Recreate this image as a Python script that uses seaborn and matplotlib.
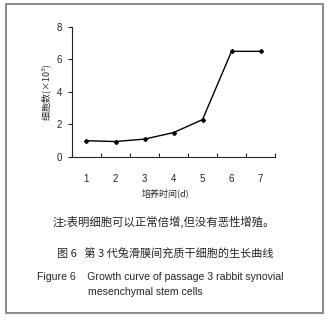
import numpy as np
import pandas as pd
import matplotlib
matplotlib.use('Agg')
import matplotlib.pyplot as plt
from matplotlib.patches import Rectangle
import seaborn as sns

days = [1, 2, 3, 4, 5, 6, 7]
cell_counts = [1.0, 0.95, 1.1, 1.5, 2.3, 6.5, 6.5]
y_ticks = [0, 2, 4, 6, 8]

sns.set_style("ticks")
plt.rcParams['font.family'] = ['Liberation Sans', 'Noto Sans CJK SC', 'DejaVu Sans']
cjk = ['Noto Sans CJK SC', 'DejaVu Sans']

df = pd.DataFrame({'day': days, 'count': cell_counts})

fig = plt.figure(figsize=(3.31, 3.21), dpi=100)
ax = fig.add_axes([0.2175, 0.511, 0.831 - 0.2175, 0.916 - 0.511])

sns.lineplot(data=df, x='day', y='count', ax=ax, color='black', linewidth=1.0,
             marker='D', markersize=2.2, markeredgecolor='black')

ax.set_xlim(0.5, 7.5)
ax.set_ylim(0, 8)
ax.set_yticks(y_ticks)
ax.set_xticks(days)
ax.set_xticks(np.arange(0.5, 8, 1), minor=True)
ax.tick_params(axis='x', which='major', length=0, labelsize=7, pad=12)
ax.tick_params(axis='x', which='minor', length=3, direction='in', width=0.8)
ax.tick_params(axis='y', length=3, width=0.8, labelsize=7, pad=4)
sns.despine(ax=ax)
for s in ['left', 'bottom']:
    ax.spines[s].set_linewidth(0.8)

ax.set_xlabel('')
ax.set_ylabel('细胞数(×10$^3$)', fontsize=6.5, family=cjk, labelpad=2)

fig.text(0.5, 1 - 193 / 321, '培养时间(d)', fontsize=6.5, family=cjk,
         ha='center', va='center')
fig.text(0.158, 1 - 222 / 321, '注:表明细胞可以正常倍增,但没有恶性增殖。', fontsize=8.2,
         family=cjk, ha='left', va='center')
fig.text(0.172, 1 - 254 / 321, '图 6   第 3 代兔滑膜间充质干细胞的生长曲线', fontsize=8,
         family=cjk, ha='left', va='center')
fig.text(0.113, 1 - 277 / 321, 'Figure 6    Growth curve of passage 3 rabbit synovial',
         fontsize=7.55, ha='left', va='center')
fig.text(0.266, 1 - 292 / 321, 'mesenchymal stem cells',
         fontsize=7.55, ha='left', va='center')

fig.patches.append(Rectangle((6 / 331, 1 - 313 / 321), 317 / 331, 309 / 321,
                             transform=fig.transFigure, fill=False,
                             edgecolor='#777777', linewidth=1.2))

fig.savefig('out.png', dpi=100)
